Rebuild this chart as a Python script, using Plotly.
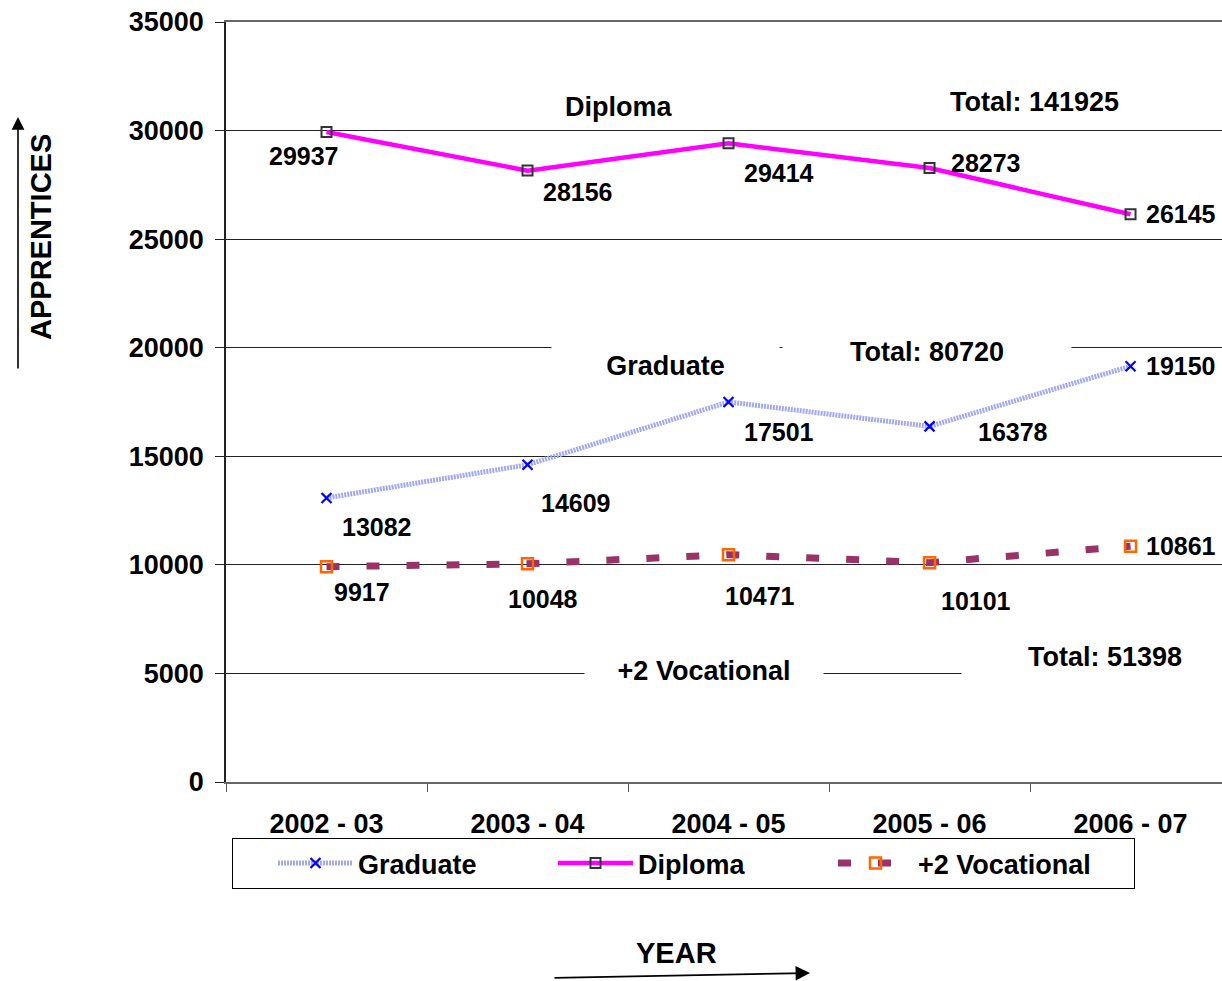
import plotly.graph_objects as go

years = ["2002 - 03", "2003 - 04", "2004 - 05", "2005 - 06", "2006 - 07"]
graduate = [13082, 14609, 17501, 16378, 19150]
diploma = [29937, 28156, 29414, 28273, 26145]
vocational = [9917, 10048, 10471, 10101, 10861]

FONT = "Liberation Sans, Arial, sans-serif"

# label offsets in pixels (dx right, dy down)
dip_off = [(-23, 24), (50, 21), (50, 30), (56, -5), (50, 0)]
grad_off = [(50, 29), (48, 38), (50, 30), (83, 6), (50, 0)]
voc_off = [(35, 25), (15, 35), (31, 41), (46, 38), (50, 0)]

fig = go.Figure()

fig.add_trace(go.Scatter(
    x=years, y=graduate, name="Graduate", mode="lines+markers",
    line=dict(color="#A3A8F3", width=5, dash="2px,1px"),
    marker=dict(symbol="x-thin", size=10, color="#0000FF",
                line=dict(color="#0000FF", width=2.2)),
))
fig.add_trace(go.Scatter(
    x=years, y=diploma, name="Diploma", mode="lines+markers",
    line=dict(color="#FF00FF", width=4.5),
    marker=dict(symbol="square-open", size=10, color="#333333",
                line=dict(color="#333333", width=2)),
))
fig.add_trace(go.Scatter(
    x=years, y=vocational, name="+2 Vocational", mode="lines+markers",
    line=dict(color="#993366", width=7, dash="13px,27px"),
    marker=dict(symbol="square-open", size=11, color="#FF6600",
                line=dict(color="#FF6600", width=2.5)),
    legendwidth=210,
))

annotations = []
lab_font = dict(family=FONT, size=25, color="black", weight="bold")
for series, offs in ((diploma, dip_off), (graduate, grad_off), (vocational, voc_off)):
    for i, (v, (dx, dy)) in enumerate(zip(series, offs)):
        annotations.append(dict(
            x=years[i], y=v, xref="x", yref="y", text=str(v), showarrow=False,
            xshift=dx, yshift=-dy, font=lab_font,
            xanchor="center", yanchor="middle"))

big_font = dict(family=FONT, size=27, color="black", weight="bold")

def px_to_paper(px, py):
    return (px - 226) / 996, (782 - py) / 760

def text_box(text, px, py, w=None, h=None, bg=None):
    x, y = px_to_paper(px, py)
    d = dict(x=x, y=y, xref="paper", yref="paper", text=text, showarrow=False,
             font=big_font, xanchor="center", yanchor="middle")
    if w:
        d["width"] = w
    if h:
        d["height"] = h
    if bg:
        d["bgcolor"] = bg
    return d

annotations += [
    text_box("Diploma", 618, 107),
    text_box("Total: " + str(sum(diploma)), 1034, 102),
    text_box("Graduate", 665.5, 366, 225, 44, "white"),
    text_box("Total: " + str(sum(graduate)), 927, 352, 286, 32, "white"),
    text_box("+2 Vocational", 704, 671, 236, 32, "white"),
    text_box("Total: " + str(sum(vocational)), 1105, 657, 284, 42, "white"),
]

# axis titles with arrows
x, y = px_to_paper(41, 237)
annotations.append(dict(x=x, y=y, xref="paper", yref="paper", text="APPRENTICES",
                        textangle=-90, showarrow=False, xanchor="center", yanchor="middle",
                        font=dict(family=FONT, size=29, color="black", weight="bold")))
x, y = px_to_paper(18, 117)
annotations.append(dict(x=x, y=y, xref="paper", yref="paper", text="", showarrow=True,
                        ax=0, ay=253, arrowhead=2, arrowsize=1.6, arrowwidth=1.6,
                        arrowcolor="black"))
x, y = px_to_paper(676, 953)
annotations.append(dict(x=x, y=y, xref="paper", yref="paper", text="YEAR",
                        showarrow=False, xanchor="center", yanchor="middle",
                        font=dict(family=FONT, size=29, color="black", weight="bold")))
x, y = px_to_paper(810, 973)
annotations.append(dict(x=x, y=y, xref="paper", yref="paper", text="", showarrow=True,
                        ax=-257, ay=5, arrowhead=2, arrowsize=1.6, arrowwidth=1.8,
                        arrowcolor="black"))

fig.update_layout(
    width=1222, height=981,
    margin=dict(l=226, r=0, t=22, b=199),
    paper_bgcolor="white", plot_bgcolor="white",
    font=dict(family=FONT, color="black"),
    showlegend=True,
    legend=dict(orientation="h", x=0.006, y=-0.0737, xanchor="left", yanchor="top",
                bordercolor="black", borderwidth=1, bgcolor="white",
                font=dict(family=FONT, size=27, color="black", weight="bold"),
                itemwidth=75, entrywidth=190, traceorder="normal",
                title=dict(text="\u00a0\u00a0\u00a0\u00a0", side="left",
                           font=dict(family=FONT, size=27))),
    annotations=annotations,
)
fig.update_xaxes(
    type="category", range=[-0.5, 4.455], tickson="boundaries",
    ticks="outside", ticklen=8, tickcolor="#555555", tickwidth=1,
    showline=True, linecolor="#666666", linewidth=2, mirror=True,
    showgrid=False, ticklabelstandoff=17,
    tickfont=dict(family=FONT, size=27, color="black", weight="bold"),
)
fig.update_yaxes(
    range=[0, 35000], dtick=5000, tickformat="d",
    ticks="outside", ticklen=9, tickcolor="#222222", tickwidth=1,
    showline=True, linecolor="#222222", linewidth=1.5,
    showgrid=True, gridcolor="#222222", gridwidth=1, zeroline=False,
    ticklabelstandoff=6,
    tickfont=dict(family=FONT, size=27, color="black", weight="bold"),
)

fig.write_html(
    "out.html",
    config={"displayModeBar": False},
    post_script="document.body.style.margin='0';document.documentElement.style.overflow='hidden';",
)
